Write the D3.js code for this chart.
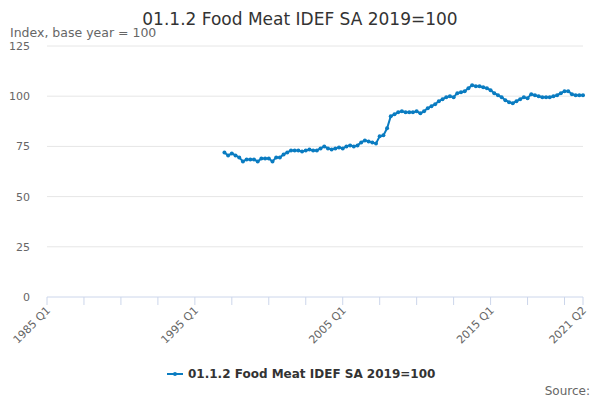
<!DOCTYPE html>
<html><head><meta charset="utf-8">
<script src="https://cdn.jsdelivr.net/npm/d3@7"></script>
<style>body{margin:0;background:#fff}text{font-family:"DejaVu Sans",sans-serif}</style>
</head><body><svg id="c" width="600" height="400"></svg>
<script>
const startYear = 1985, endIndex = 145; // 1985 Q1 .. 2021 Q2
const dataStartIndex = 48; // 1997 Q1
const values = [72,70.5,71.5,70.5, 69.5,67.5,68.5,68.5, 68.5,67.5,69,69, 69,67.5,69.5,69.5,
71,72,73,73, 73,72.5,73,73.5, 73,73,74,75, 74,73.5,74,74.5, 74,75,75.5,75, 75.5,77,78,77.5,
77,76.5,80,80.5, 84,90,91,92, 92.5,92,92,92, 92.5,91.5,92.5,94, 95,96,97.5,98.5,
99.5,100,99.5,101.5, 102,102.5,104,105.5, 105,105,104.5,104, 103,101.5,100.5,99.5,
98,97,96.5,97.5, 98.5,99.5,99,101, 100.5,100,99.5,99.5, 99.5,100,100.5,101.5, 102.5,102.5,101,100.5, 100.5,100.5];
const yTicks = [0,25,50,75,100,125];
const xLabelIdx = [0,40,80,120,145];
const title = "01.1.2 Food Meat IDEF SA 2019=100";
const label = q => `${startYear+Math.floor(q/4)} Q${q%4+1}`;
const data = values.map((v,i)=>({q:dataStartIndex+i,v}));

const svg=d3.select("#c"), L=47,R=583,T=46,B=297, col="#0a7cc1";
const x=d3.scaleLinear().domain([0,endIndex]).range([L,R]);
const y=d3.scaleLinear().domain([0,125]).range([B,T]);
svg.append("text").attr("x",300).attr("y",25).attr("text-anchor","middle").attr("font-size",17).attr("fill","#333").text(title);
svg.append("text").attr("x",10).attr("y",37).attr("font-size",12.5).attr("fill","#666").text("Index, base year = 100");
svg.append("g").selectAll("line").data(yTicks.slice(1)).join("line").attr("x1",L).attr("x2",R).attr("y1",y).attr("y2",y).attr("stroke","#e6e6e6");
svg.append("g").selectAll("text").data(yTicks).join("text").attr("x",30).attr("y",d=>y(d)+4).attr("text-anchor","end").attr("font-size",11).attr("fill","#666").text(d=>d);
svg.append("line").attr("x1",L).attr("x2",R).attr("y1",B).attr("y2",B).attr("stroke","#ccd6eb");
const ticks=d3.range(0,endIndex,10).concat([endIndex]);
svg.append("g").selectAll("line").data(ticks).join("line").attr("x1",x).attr("x2",x).attr("y1",B).attr("y2",B+8).attr("stroke","#ccd6eb");
svg.append("g").selectAll("text").data(xLabelIdx).join("text").attr("font-size",11).attr("fill","#666").attr("text-anchor","end")
 .attr("transform",d=>`translate(${x(d)+4},${B+14}) rotate(-45)`).text(label);
svg.append("path").datum(data).attr("fill","none").attr("stroke",col).attr("stroke-width",2)
 .attr("d",d3.line().x(d=>x(d.q)).y(d=>y(d.v)));
svg.append("g").selectAll("circle").data(data).join("circle").attr("cx",d=>x(d.q)).attr("cy",d=>y(d.v)).attr("r",2).attr("fill",col);
svg.append("line").attr("x1",167).attr("x2",183).attr("y1",374).attr("y2",374).attr("stroke",col).attr("stroke-width",2);
svg.append("circle").attr("cx",175).attr("cy",374).attr("r",2).attr("fill",col);
svg.append("text").attr("x",188).attr("y",378).attr("font-size",12).attr("font-weight","bold").attr("fill","#333").text(title);
svg.append("text").attr("x",590).attr("y",395).attr("text-anchor","end").attr("font-size",12).attr("fill","#666").text("Source:");
</script></body></html>
